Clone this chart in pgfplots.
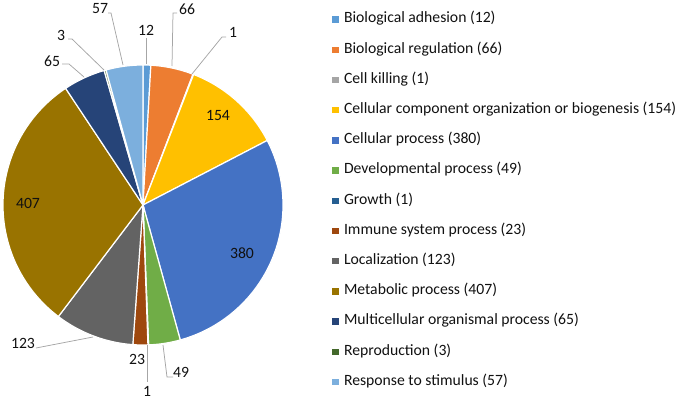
\documentclass[border=0pt]{standalone}
\usepackage{fontspec}
\setmainfont{Carlito}
\usepackage{pgfplots}
\usepackage{pgfplotstable}
\pgfplotsset{compat=1.18}
\definecolor{c0}{HTML}{5B9BD5}
\definecolor{c1}{HTML}{ED7D31}
\definecolor{c2}{HTML}{A5A5A5}
\definecolor{c3}{HTML}{FFC000}
\definecolor{c4}{HTML}{4472C4}
\definecolor{c5}{HTML}{70AD47}
\definecolor{c6}{HTML}{255E91}
\definecolor{c7}{HTML}{9E480E}
\definecolor{c8}{HTML}{636363}
\definecolor{c9}{HTML}{997300}
\definecolor{c10}{HTML}{264478}
\definecolor{c11}{HTML}{43682B}
\definecolor{c12}{HTML}{7CAFDD}
\definecolor{lead}{HTML}{A6A6A6}
\definecolor{txt}{HTML}{111111}
\pgfplotstableread{
val
12
66
1
154
380
49
1
23
123
407
65
3
57
}\piedata
\begin{document}
\fontsize{15.7pt}{18pt}\selectfont
\begin{tikzpicture}
% total of the values
\gdef\pietotal{0}
\pgfplotsinvokeforeach{0,...,12}{%
  \pgfplotstablegetelem{#1}{val}\of\piedata
  \pgfmathsetmacro\tmp{\pietotal+\pgfplotsretval}%
  \xdef\pietotal{\tmp}%
}
% start/end angles of each slice (clockwise from 12 o'clock)
\gdef\piecum{0}
\pgfplotsinvokeforeach{0,...,12}{%
  \pgfplotstablegetelem{#1}{val}\of\piedata
  \pgfmathsetmacro\tmpA{90-(\piecum/\pietotal)*360}%
  \pgfmathsetmacro\tmpC{\piecum+\pgfplotsretval}%
  \xdef\piecum{\tmpC}%
  \pgfmathsetmacro\tmpB{90-(\piecum/\pietotal)*360}%
  \expandafter\xdef\csname pieA#1\endcsname{\tmpB}%
  \expandafter\xdef\csname pieB#1\endcsname{\tmpA}%
}
\path[use as bounding box] (0,0) rectangle (675pt,401pt);
\begin{axis}[
  at={(0,0)}, anchor=south west,
  x=1pt, y=1pt, xmin=0, xmax=675, ymin=0, ymax=401,
  y dir=reverse, scale only axis, hide axis, clip=false,
  legend cell align=left,
  legend image code/.code={\fill[#1, draw=none] (0pt,-3.2pt) rectangle (6.5pt,3.2pt);},
  legend style={at={(axis cs:332,13.4)}, anchor=north west, draw=none, fill=none,
    inner sep=0pt, outer sep=0pt, row sep=17.7pt, column sep=5.5pt,
    nodes={inner sep=0pt, text height=9.5pt, text depth=3pt},
    font=\fontsize{15.7pt}{18pt}\selectfont, text=txt},
  legend entries={Biological adhesion (12), Biological regulation (66), Cell killing (1),
    Cellular component organization or biogenesis (154), Cellular process (380),
    Developmental process (49), Growth (1), Immune system process (23), Localization (123),
    Metabolic process (407), Multicellular organismal process (65), Reproduction (3),
    Response to stimulus (57)},
]
\pgfplotsinvokeforeach{0,...,12}{%
  \edef\doslice{\noexpand\addplot[fill=c#1, draw=white, line width=1.2pt,
     domain=\csname pieA#1\endcsname:\csname pieB#1\endcsname, samples=90]
     ({143+140*cos(x)},{205-140*sin(x)}) -- (axis cs:143,205) -- cycle;}%
  \doslice
}
% leader lines
\addplot[forget plot, draw=lead, line width=0.75pt] coordinates {(146,38) (146,64)};
\addplot[forget plot, draw=lead, line width=0.75pt] coordinates {(177,13) (173,13) (172,66)};
\addplot[forget plot, draw=lead, line width=0.75pt] coordinates {(226,37) (222,37) (192,74)};
\addplot[forget plot, draw=lead, line width=0.75pt] coordinates {(108,13) (111,13) (123,65)};
\addplot[forget plot, draw=lead, line width=0.75pt] coordinates {(68,39) (72,39) (104,70)};
\addplot[forget plot, draw=lead, line width=0.75pt] coordinates {(62,64) (69,64) (84,77)};
\addplot[forget plot, draw=lead, line width=0.75pt] coordinates {(36,348) (93,337)};
\addplot[forget plot, draw=lead, line width=0.75pt] coordinates {(147,345) (147,382)};
\addplot[forget plot, draw=lead, line width=0.75pt] coordinates {(163,345) (167,377) (173,377)};
% data labels
\node[text=txt] at (axis cs:146,30) {12};
\node[text=txt] at (axis cs:187,9) {66};
\node[text=txt] at (axis cs:233,32) {1};
\node[text=txt] at (axis cs:100,9) {57};
\node[text=txt] at (axis cs:61,35) {3};
\node[text=txt] at (axis cs:52,61) {65};
\node[text=txt] at (axis cs:23,343) {123};
\node[text=txt] at (axis cs:137,359) {23};
\node[text=txt] at (axis cs:147,391) {1};
\node[text=txt] at (axis cs:181,372) {49};
\node[text=txt] at (axis cs:218,116) {154};
\node[text=txt] at (axis cs:242,253) {380};
\node[text=txt] at (axis cs:28,203) {407};
\end{axis}
\end{tikzpicture}
\end{document}
